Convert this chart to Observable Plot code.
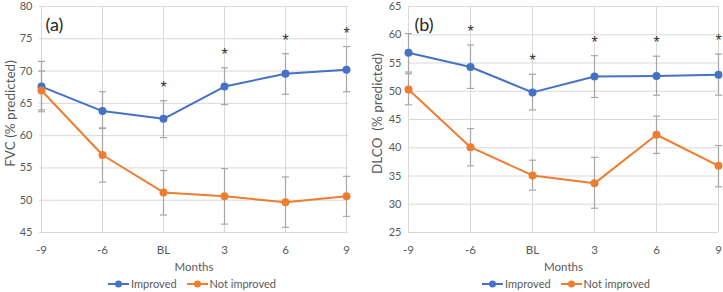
<!DOCTYPE html>
<html>
<head>
<meta charset="utf-8">
<script src="https://cdn.jsdelivr.net/npm/d3@7"></script>
<script src="https://cdn.jsdelivr.net/npm/@observablehq/plot@0.6"></script>
<style>
  body { margin: 0; background: #fff; font-family: Lato, "Liberation Sans", sans-serif; }
  #wrap { display: flex; width: 723px; height: 292px; overflow: hidden; }
  .panel { width: 361px; }
  .panel + .panel { margin-left: 1px; }
  .legend { display: flex; justify-content: center; align-items: center; height: 17px; font-size: 11px; color: #595959; }
  .legend .item { display: flex; align-items: center; margin: 0 5px; }
  .legend svg { margin-right: 2px; }
</style>
</head>
<body>
<div id="wrap"><div class="panel" id="pa"></div><div class="panel" id="pb"></div></div>
<script>
// ---- data ----
const months = ["-9", "-6", "BL", "3", "6", "9"];
const seriesNames = ["Improved", "Not improved"];
const seriesColors = ["#4472c4", "#ed7d31"];

const fvcImproved     = [67.6, 63.8, 62.6, 67.6, 69.6, 70.2];
const fvcImprovedLow  = [63.7, 61.1, 59.7, 64.8, 66.4, 66.8];
const fvcImprovedHigh = [71.5, 66.8, 65.4, 70.5, 72.7, 73.8];
const fvcNot          = [67.0, 57.0, 51.2, 50.6, 49.7, 50.6];
const fvcNotLow       = [64.0, 52.8, 47.7, 46.3, 45.8, 47.5];
const fvcNotHigh      = [70.0, 61.2, 54.6, 54.9, 53.6, 53.7];
const fvcStars        = ["BL", "3", "6", "9"];
const fvcTicks        = [45, 50, 55, 60, 65, 70, 75, 80];

const dlcoImproved     = [56.8, 54.3, 49.8, 52.6, 52.7, 52.9];
const dlcoImprovedLow  = [53.4, 50.5, 46.7, 48.9, 49.3, 49.3];
const dlcoImprovedHigh = [60.2, 58.2, 53.0, 56.3, 56.2, 56.6];
const dlcoNot          = [50.3, 40.1, 35.1, 33.7, 42.3, 36.8];
const dlcoNotLow       = [47.6, 36.8, 32.5, 29.3, 39.0, 33.1];
const dlcoNotHigh      = [53.1, 43.4, 37.8, 38.3, 45.6, 40.4];
const dlcoStars        = ["-6", "BL", "3", "6", "9"];
const dlcoTicks        = [25, 30, 35, 40, 45, 50, 55, 60, 65];

function rows(vals, lows, highs, name) {
  return months.map((m, i) => ({month: m, series: name, value: vals[i], low: lows[i], high: highs[i]}));
}

// horizontal cap symbol for error bars
const capSymbol = {draw(ctx) { ctx.moveTo(-3.5, 0); ctx.lineTo(3.5, 0); }};

function panel({data, stars, ticks, label, tag, marginLeft, marginRight, labelDx}) {
  const errColor = "#a6a6a6";
  const starRows = data.filter(d => d.series === seriesNames[0] && stars.includes(d.month));
  return Plot.plot({
    width: 361, height: 275,
    marginLeft, marginRight, marginTop: 6, marginBottom: 43,
    style: {fontFamily: 'Lato, "Liberation Sans", sans-serif', fontSize: "11px", color: "#595959", background: "#fff", overflow: "visible"},
    x: {type: "point", domain: months, padding: 0},
    y: {domain: [ticks[0], ticks[ticks.length - 1]]},
    color: {domain: seriesNames, range: seriesColors},
    marks: [
      Plot.gridX({stroke: "#d9d9d9", strokeOpacity: 1}),
      Plot.gridY(ticks, {stroke: "#d9d9d9", strokeOpacity: 1}),
      Plot.axisY(ticks, {tickSize: 0, tickPadding: 7, label: null, fontSize: 11}),
      Plot.text([label], {frameAnchor: "left", textAnchor: "middle", rotate: -90, dx: labelDx, dy: -6, fontSize: 13.5, fill: "#595959"}),
      Plot.axisX({tickSize: 0, tickPadding: 13, label: "Months", labelAnchor: "center", labelArrow: "none", labelOffset: 38, fontSize: 11.5}),
      Plot.ruleX(data, {x: "month", y1: "low", y2: "high", stroke: errColor, strokeWidth: 1.2}),
      Plot.dot(data, {x: "month", y: "low", symbol: capSymbol, stroke: errColor, strokeWidth: 1.2, fill: "none"}),
      Plot.dot(data, {x: "month", y: "high", symbol: capSymbol, stroke: errColor, strokeWidth: 1.2, fill: "none"}),
      Plot.line(data, {x: "month", y: "value", z: "series", stroke: "series", strokeWidth: 2}),
      Plot.dot(data, {x: "month", y: "value", fill: "series", r: 4}),
      Plot.text(starRows, {x: "month", y: "high", text: () => "*", fontSize: 16, fontFamily: '"Liberation Sans", sans-serif', fill: "#333", lineAnchor: "middle", dy: -13}),
      Plot.text([tag], {frameAnchor: "top-left", textAnchor: "start", dx: 6, dy: 12, fontSize: 18, fill: "#262626"})
    ]
  });
}

function legend(padLeft) {
  const div = document.createElement("div");
  div.className = "legend";
  div.style.paddingLeft = padLeft + "px";
  seriesNames.forEach((name, i) => {
    const item = document.createElement("div");
    item.className = "item";
    item.innerHTML = `<svg width="21" height="10"><line x1="0" x2="21" y1="5" y2="5" stroke="${seriesColors[i]}" stroke-width="2"/><circle cx="10.5" cy="5" r="3.5" fill="${seriesColors[i]}"/></svg><span>${name}</span>`;
    div.appendChild(item);
  });
  return div;
}

const dataA = [...rows(fvcImproved, fvcImprovedLow, fvcImprovedHigh, seriesNames[0]),
               ...rows(fvcNot, fvcNotLow, fvcNotHigh, seriesNames[1])];
const dataB = [...rows(dlcoImproved, dlcoImprovedLow, dlcoImprovedHigh, seriesNames[0]),
               ...rows(dlcoNot, dlcoNotLow, dlcoNotHigh, seriesNames[1])];

const pa = document.getElementById("pa");
pa.appendChild(panel({data: dataA, stars: fvcStars, ticks: fvcTicks, label: "FVC (% predicted)", tag: "(a)", marginLeft: 39, marginRight: 13, labelDx: -29}));
pa.appendChild(legend(23));
const pb = document.getElementById("pb");
pb.appendChild(panel({data: dataB, stars: dlcoStars, ticks: dlcoTicks, label: "DLCO  (% predicted)", tag: "(b)", marginLeft: 46, marginRight: 5, labelDx: -31}));
pb.appendChild(legend(47));
</script>
</body>
</html>
